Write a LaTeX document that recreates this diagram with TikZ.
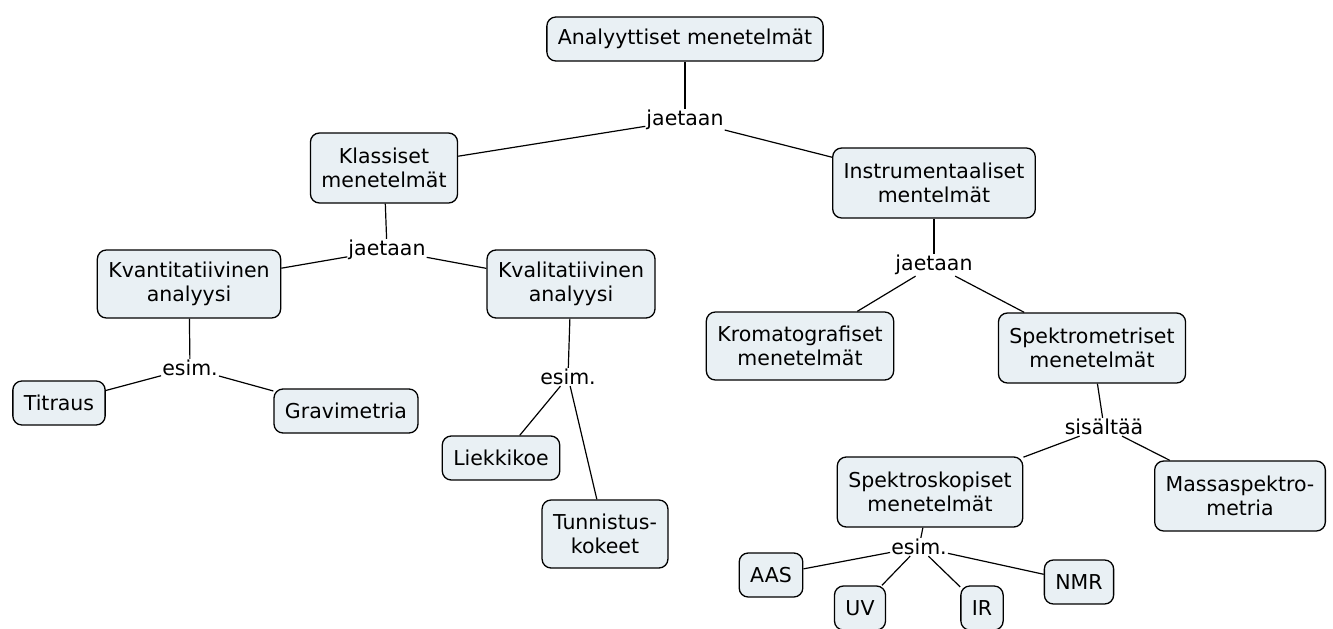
\documentclass[tikz,border=0pt]{standalone}
\usepackage{fontspec}
\setmainfont{DejaVu Sans}
\usetikzlibrary{positioning}
\definecolor{colBox}{RGB}{233,240,244}

\begin{document}
\begin{tikzpicture}[
  x=1pt, y=-1pt,
  box/.style={rectangle, draw, line width=1.3pt, rounded corners=9pt, fill=colBox,
              inner xsep=11pt, inner ysep=4pt, minimum height=44pt,
              font=\fontsize{20.5}{24}\selectfont, align=center},
  lbl/.style={inner sep=1pt, font=\fontsize{20.5}{24}\selectfont},
  con/.style={line width=1.2pt},
]
\useasboundingbox (0,0) rectangle (1333,629);

% top level
\node[box] (analyt) at (685,39) {Analyyttiset menetelmät};
\node[lbl] (jae1) at (685,120) {jaetaan};
\node[box, minimum height=70pt] (klass) at (384,168) {Klassiset\\menetelmät};
\node[box, minimum height=70pt] (instr) at (934,183) {Instrumentaaliset\\mentelmät};

\draw[con] (analyt) -- (jae1);
\draw[con] (jae1) -- (klass);
\draw[con] (jae1) -- (instr);

% classical branch
\node[lbl] (jae2) at (387,250) {jaetaan};
\node[box, minimum height=68pt] (kvant) at (189,284) {Kvantitatiivinen\\analyysi};
\node[box, minimum height=68pt] (kval) at (571,284) {Kvalitatiivinen\\analyysi};
\draw[con] (klass) -- (jae2);
\draw[con] (jae2) -- (kvant);
\draw[con] (jae2) -- (kval);

\node[lbl] (esim1) at (190,368) {esim.};
\node[box] (titr) at (59,403) {Titraus};
\node[box] (grav) at (346,411) {Gravimetria};
\draw[con] (kvant) -- (esim1);
\draw[con] (esim1) -- (titr);
\draw[con] (esim1) -- (grav);

\node[lbl] (esim2) at (568,377) {esim.};
\node[box] (liekki) at (501,458) {Liekkikoe};
\node[box, minimum height=68pt] (tunn) at (605,534) {Tunnistus-\\kokeet};
\draw[con] (kval) -- (esim2);
\draw[con] (esim2) -- (liekki);
\draw[con] (esim2) -- (tunn);

% instrumental branch
\node[lbl] (jae3) at (934,265) {jaetaan};
\node[box, minimum height=68pt] (kroma) at (800,346) {Kromatografiset\\menetelmät};
\node[box, minimum height=70pt] (spektrom) at (1092,348) {Spektrometriset\\menetelmät};
\draw[con] (instr) -- (jae3);
\draw[con] (jae3) -- (kroma);
\draw[con] (jae3) -- (spektrom);

\node[lbl] (sis) at (1104,427) {sisältää};
\node[box, minimum height=70pt] (spektros) at (930,492) {Spektroskopiset\\menetelmät};
\node[box, minimum height=70pt] (massa) at (1240,496) {Massaspektro-\\metria};
\draw[con] (spektrom) -- (sis);
\draw[con] (sis) -- (spektros);
\draw[con] (sis) -- (massa);

\node[lbl] (esim3) at (919,547) {esim.};
\node[box] (aas) at (771,575) {AAS};
\node[box] (uv) at (860,608) {UV};
\node[box] (ir) at (982,608) {IR};
\node[box] (nmr) at (1079,582) {NMR};
\draw[con] (spektros) -- (esim3);
\draw[con] (esim3) -- (aas);
\draw[con] (esim3) -- (uv);
\draw[con] (esim3) -- (ir);
\draw[con] (esim3) -- (nmr);

\end{tikzpicture}
\end{document}
